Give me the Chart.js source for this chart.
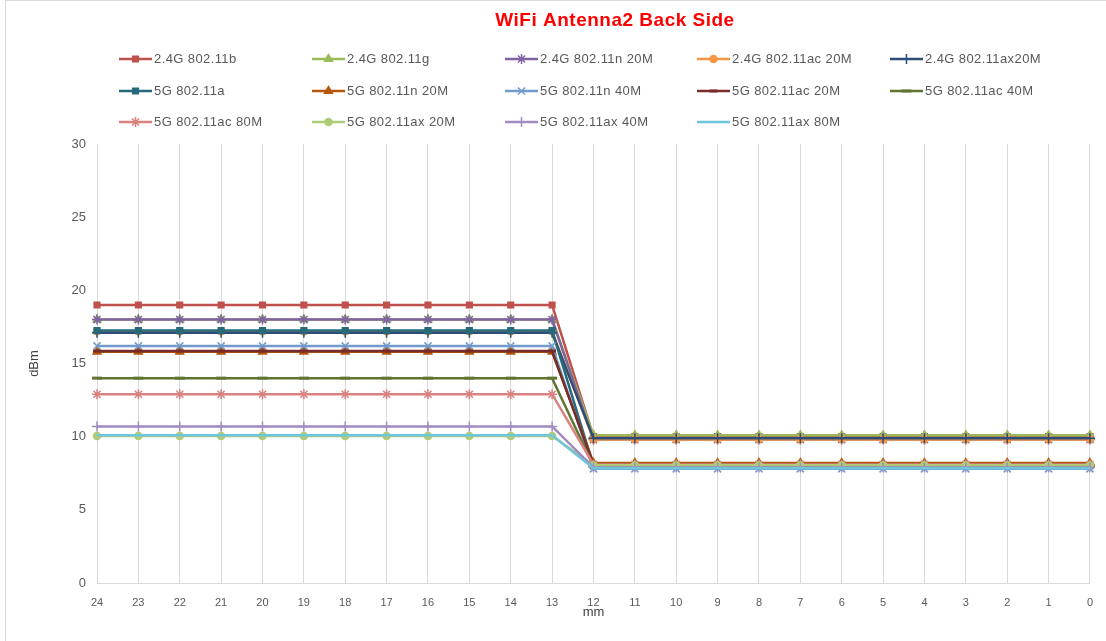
<!DOCTYPE html>
<html>
<head>
<meta charset="utf-8">
<script src="https://cdn.jsdelivr.net/npm/chart.js@4/dist/chart.umd.min.js"></script>
<style>
  html, body { margin: 0; padding: 0; background: #fff; }
  #wrap { position: relative; width: 1106px; height: 641px; }
  #frame { position: absolute; left: 5px; top: 0; right: 0; bottom: 0; border-left: 1px solid #d9d9d9; border-top: 1px solid #d9d9d9; pointer-events: none; }
  canvas { position: absolute; left: 0; top: 0; }
</style>
</head>
<body>
<div id="wrap">
  <canvas id="c" width="1106" height="641"></canvas>
  <div id="frame"></div>
</div>
<script>
// ---- data ----
const categories = ['24','23','22','21','20','19','18','17','16','15','14','13','12','11','10','9','8','7','6','5','4','3','2','1','0'];
const seriesNames = [
  '2.4G 802.11b', '2.4G 802.11g', '2.4G 802.11n 20M', '2.4G 802.11ac 20M', '2.4G 802.11ax20M',
  '5G 802.11a', '5G 802.11n 20M', '5G 802.11n 40M', '5G 802.11ac 20M', '5G 802.11ac 40M',
  '5G 802.11ac 80M', '5G 802.11ax 20M', '5G 802.11ax 40M', '5G 802.11ax 80M'
];
// value for positions 24..13 and 12..0
const nearValues = [19.0, 18.0, 18.0, 17.2, 17.1, 17.25, 15.8, 16.2, 15.85, 14.0, 12.9, 10.05, 10.7, 10.1];
const farValues  = [10.0, 10.1, 9.8, 9.8, 9.9, 8.0, 8.2, 7.8, 8.1, 8.0, 8.1, 8.05, 7.9, 7.85];
const yTicks = [0, 5, 10, 15, 20, 25, 30];

// ---- styles ----
const colors = ['#C0504D','#9BBB59','#8064A2','#F79646','#2C4D75',
                '#276A7C','#B65708','#729ACA','#772C2A','#5F7530',
                '#D9827F','#AFCB78','#A08CC0','#6FC5DD'];
const markers = ['rect','triangle','star','circle','cross',
                 'rect','triangle','crossRot','line','line',
                 'star','circle','cross',false];
const radii = [4,4.5,5,3.5,5, 4,4.5,5,4,5, 5,3.5,5,0];

function seriesData(i) {
  return categories.map((c) => (Number(c) >= 13 ? nearValues[i] : farValues[i]));
}

const datasets = seriesNames.map((name, i) => ({
  label: name,
  data: seriesData(i),
  borderColor: colors[i],
  backgroundColor: colors[i],
  pointBackgroundColor: colors[i],
  pointBorderColor: colors[i],
  borderWidth: 2.5,
  pointStyle: markers[i] || 'circle',
  pointRadius: radii[i],
  pointBorderWidth: (markers[i] === 'line') ? 3 : 1.5,
  pointHoverRadius: radii[i],
  tension: 0,
  order: -i
}));

const LEG_X = [119, 312, 505, 697, 890];
const LEG_Y = [59, 91, 122];

const xlLegend = {
  id: 'xlLegend',
  afterDraw(chart) {
    const ctx = chart.ctx;
    ctx.save();
    chart.data.datasets.forEach((ds, i) => {
      const x0 = LEG_X[i % 5], y = LEG_Y[Math.floor(i / 5)];
      ctx.strokeStyle = ds.borderColor;
      ctx.fillStyle = ds.borderColor;
      ctx.lineWidth = 2.5;
      ctx.beginPath(); ctx.moveTo(x0, y); ctx.lineTo(x0 + 33, y); ctx.stroke();
      if (ds.pointRadius > 0) {
        ctx.lineWidth = ds.pointBorderWidth;
        Chart.helpers.drawPoint(ctx, { pointStyle: ds.pointStyle, radius: ds.pointRadius, borderWidth: ds.pointBorderWidth, rotation: 0 }, x0 + 16.5, y);
      }
      ctx.fillStyle = '#595959';
      ctx.font = '13px "Liberation Sans", Arial, sans-serif';
      ctx.textBaseline = 'middle';
      ctx.textAlign = 'left';
      if ('letterSpacing' in ctx) ctx.letterSpacing = '0.4px';
      ctx.fillText(ds.label, x0 + 35, y);
    });
    if ('letterSpacing' in ctx) ctx.letterSpacing = '0.5px';
    ctx.fillStyle = '#FF0000';
    ctx.font = 'bold 19px "Liberation Sans", Arial, sans-serif';
    ctx.textAlign = 'center';
    ctx.textBaseline = 'middle';
    ctx.fillText('WiFi Antenna2 Back Side', 615, 21);
    ctx.restore();
  }
};

new Chart(document.getElementById('c'), {
  type: 'line',
  data: { labels: categories, datasets },
  options: {
    responsive: false,
    animation: false,
    devicePixelRatio: 1,
    layout: { padding: { left: 27, right: 16, top: 144, bottom: 21 } },
    plugins: { legend: { display: false }, title: { display: false }, tooltip: { enabled: false } },
    scales: {
      x: {
        type: 'category',
        offset: false,
        grid: { display: true, color: '#D9D9D9', lineWidth: 1, drawTicks: false },
        border: { display: true, color: '#D9D9D9', width: 1 },
        ticks: { color: '#595959', font: { size: 11, family: '"Liberation Sans", Arial, sans-serif' }, padding: 13, maxRotation: 0, autoSkip: false },
        title: { display: true, text: 'mm', color: '#404040', font: { size: 13, family: '"Liberation Sans", Arial, sans-serif' }, padding: { top: 0, bottom: 0 } },
        afterFit(scale) { scale.height = 37; }
      },
      y: {
        min: 0, max: 30,
        afterBuildTicks(scale) { scale.ticks = yTicks.map(v => ({ value: v })); },
        grid: { display: false, drawTicks: false },
        border: { display: false },
        ticks: { color: '#595959', font: { size: 13, family: '"Liberation Sans", Arial, sans-serif' }, padding: 11 },
        title: { display: true, text: 'dBm', color: '#404040', font: { size: 13, family: '"Liberation Sans", Arial, sans-serif' }, padding: { top: 0, bottom: 0 } },
        afterFit(scale) { scale.width = 70; }
      }
    }
  },
  plugins: [xlLegend]
});
</script>
</body>
</html>
